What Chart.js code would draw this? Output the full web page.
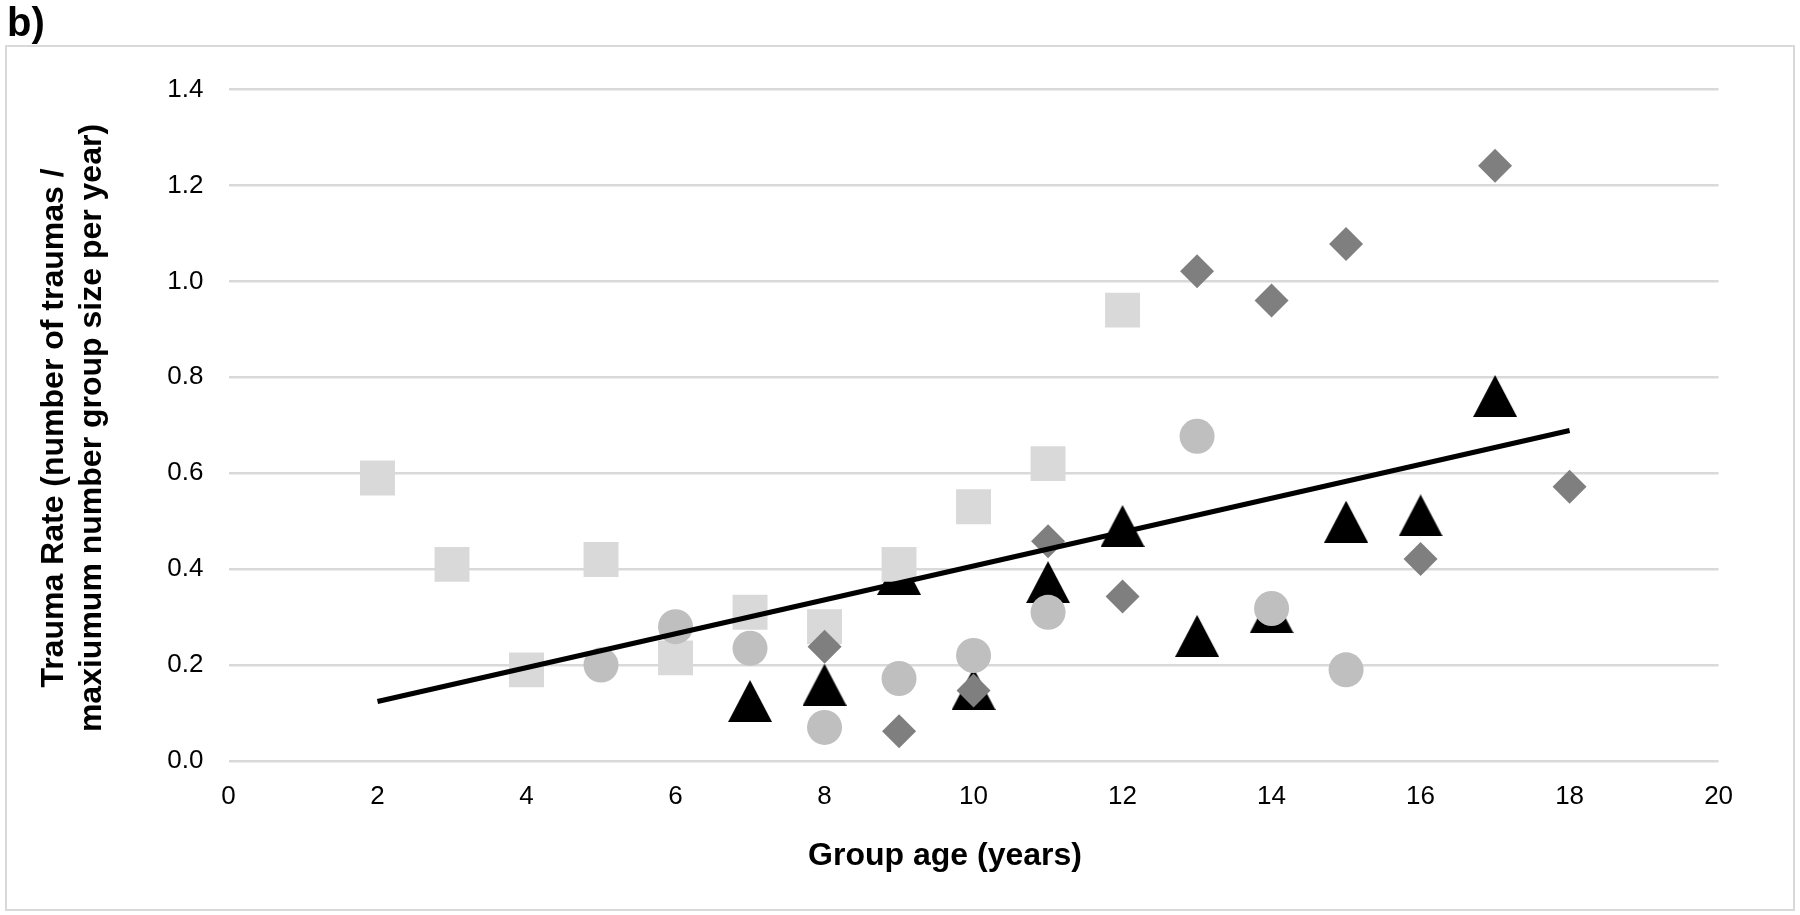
<!DOCTYPE html>
<html>
<head>
<meta charset="utf-8">
<title>Trauma rate by group age</title>
<script src="https://cdn.jsdelivr.net/npm/chart.js@4.4.1/dist/chart.umd.min.js"></script>
<style>
    body { margin: 0; background: #fff; }
    canvas { display: block; }
</style>
</head>
<body>
<canvas id="my-chart" width="1800" height="915"></canvas>
<script>
// values
const squareX = [2, 3, 4, 5, 6, 7, 8, 9, 10, 11, 12];
const squareY = [0.59, 0.41, 0.19, 0.42, 0.215, 0.31, 0.28, 0.41, 0.53, 0.62, 0.94];
const circleX = [5, 6, 7, 8, 9, 10, 11, 13, 14, 15];
const circleY = [0.20, 0.28, 0.235, 0.07, 0.172, 0.22, 0.31, 0.677, 0.318, 0.19];
const diamondX = [8, 9, 10, 11, 12, 13, 14, 15, 16, 17, 18];
const diamondY = [0.238, 0.062, 0.147, 0.458, 0.343, 1.021, 0.96, 1.078, 0.421, 1.241, 0.572];
const triangleX = [7, 8, 9, 10, 11, 12, 13, 14, 15, 16, 17];
const triangleY = [0.125, 0.159, 0.39, 0.15, 0.373, 0.49, 0.261, 0.31, 0.499, 0.512, 0.761];
const trendX = [2, 18];
const trendY = [0.124, 0.689];

const xTitle = 'Group age (years)';
const yTitle = ['Trauma Rate (number of traumas /', 'maxiumum number group size per year)'];
const panelLabel = 'b)';

const FONT = '"Liberation Sans", Arial, sans-serif';

function pts(xs, ys) {
    return xs.map((x, i) => ({x: x, y: ys[i]}));
}

// excel style triangle, centred on its bounding box
function triangleMarker(w, h, color) {
    let c = document.createElement('canvas');
    c.width = w;
    c.height = h;
    let g = c.getContext('2d');
    g.fillStyle = color;
    g.beginPath();
    g.moveTo(w / 2, 0);
    g.lineTo(w, h);
    g.lineTo(0, h);
    g.closePath();
    g.fill();
    return c;
}

const decor = {
    id: 'decor',
    beforeDraw(chart) {
        let c = chart.ctx;
        c.save();
        c.strokeStyle = '#d9d9d9';
        c.lineWidth = 2;
        c.strokeRect(6, 46, 1788, 864);
        c.restore();
    },
    afterDraw(chart) {
        let c = chart.ctx;
        c.save();
        c.fillStyle = '#000';
        c.font = 'bold 40px ' + FONT;
        c.textAlign = 'left';
        c.textBaseline = 'alphabetic';
        c.fillText(panelLabel, 7, 36);

        c.font = 'bold 32px ' + FONT;
        c.textAlign = 'center';
        c.fillText(xTitle, 945, 865);

        c.translate(54, 428);
        c.rotate(-Math.PI / 2);
        c.textBaseline = 'middle';
        yTitle.forEach((line, i) => c.fillText(line, 0, i * 38));
        c.restore();
    }
};

let ctx = document.querySelector('#my-chart').getContext('2d');
let myChart = new Chart(ctx, {
    type: 'scatter',
    data: {
        datasets: [{
            type: 'line',
            data: pts(trendX, trendY),
            borderColor: '#000',
            borderWidth: 5,
            pointRadius: 0,
            fill: false,
            order: 0
        }, {
            data: pts(diamondX, diamondY),
            pointStyle: 'rectRot',
            pointRadius: 17,
            backgroundColor: '#7f7f7f',
            borderWidth: 0,
            order: 1
        }, {
            data: pts(circleX, circleY),
            pointStyle: 'circle',
            pointRadius: 17.5,
            backgroundColor: '#bfbfbf',
            borderWidth: 0,
            order: 2
        }, {
            data: pts(squareX, squareY),
            pointStyle: 'rect',
            pointRadius: 24.7,
            backgroundColor: '#d9d9d9',
            borderWidth: 0,
            order: 3
        }, {
            data: pts(triangleX, triangleY),
            pointStyle: triangleMarker(44, 42, '#000'),
            pointRadius: 22,
            backgroundColor: '#000',
            borderWidth: 0,
            order: 4
        }]
    },
    options: {
        responsive: false,
        animation: false,
        layout: {
            padding: {left: 0, right: 81.4, top: 89.5, bottom: 0}
        },
        scales: {
            x: {
                type: 'linear',
                min: 0,
                max: 20,
                afterFit: function(scale) { scale.height = 154; },
                grid: { display: false },
                border: { display: false },
                ticks: {
                    stepSize: 2,
                    padding: 12,
                    color: '#000',
                    font: { family: FONT, size: 26 },
                    maxRotation: 0
                }
            },
            y: {
                min: 0,
                max: 1.4,
                afterFit: function(scale) { scale.width = 228.5; },
                grid: {
                    color: '#d9d9d9',
                    lineWidth: 2.5,
                    drawTicks: false
                },
                border: { display: false },
                ticks: {
                    stepSize: 0.2,
                    padding: 25,
                    color: '#000',
                    font: { family: FONT, size: 26 },
                    callback: function(value) {
                        return value.toFixed(1);
                    }
                }
            }
        },
        plugins: {
            legend: { display: false },
            tooltip: { enabled: false }
        }
    },
    plugins: [decor]
});
</script>
</body>
</html>
